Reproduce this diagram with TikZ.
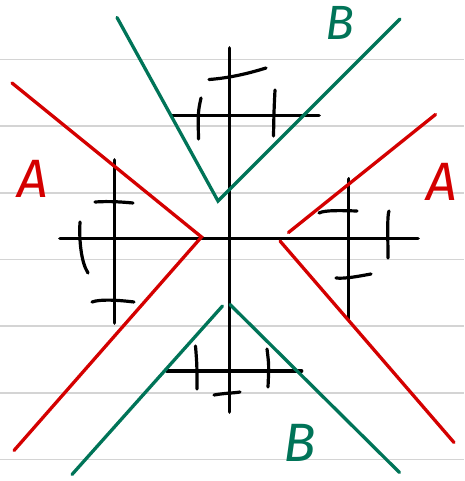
\documentclass[tikz,border=0pt]{standalone}
\usepackage{fontspec}
\setmainfont{Fira Sans}
\begin{document}
\begin{tikzpicture}[x=1pt,y=-1pt,
  rule/.style={draw={rgb,255:red,212;green,212;blue,212},line width=1.6},
  ax/.style={draw=black,line width=3.8,line cap=round},
  tk/.style={draw=black,line width=3.2,line cap=round},
  redl/.style={draw={rgb,255:red,212;green,0;blue,0},line width=3.3,line cap=round},
  grnl/.style={draw={rgb,255:red,0;green,116;blue,88},line width=3.3,line cap=round},
  lblA/.style={text={rgb,255:red,212;green,0;blue,0},font=\itshape\fontsize{54}{54}\selectfont,inner sep=0},
  lblB/.style={text={rgb,255:red,0;green,116;blue,88},font=\itshape\fontsize{48}{48}\selectfont,inner sep=0}]
\useasboundingbox[fill=white] (0,0) rectangle (464,481);
% ruled paper
\foreach \y in {59.5,126.2,192.8,259.5,326.2,392.8,459.5}
  \draw[rule] (0,\y) -- (464,\y);
% main axes
\coordinate (hl) at (60,238.5); \coordinate (hr) at (418,238.5);
\coordinate (vt) at (229.5,48); \coordinate (vb) at (229.5,412);
\draw[ax] (hl) -- (hr);
\draw[ax] (vt) -- (vb);
% top small axis
\coordinate (th1) at (172,115.5); \coordinate (th2) at (319,115.5);
\draw[ax] (th1) -- (th2);
\draw[tk] (201,98) .. controls (198,112) .. (198.5,139);
\draw[tk] (275,90) .. controls (274,110) .. (273.5,136);
\draw[tk] (209,79.5) .. controls (230,78) and (250,73) .. (266,68);
% left small axis
\coordinate (lt) at (114.5,160); \coordinate (lb) at (114.5,323);
\draw[ax] (lt) -- (lb);
\draw[tk] (95,202) .. controls (110,201) and (122,202) .. (133,203);
\draw[tk] (92,302) .. controls (100,299) and (118,300) .. (134,302);
\draw[tk] (80,222) .. controls (79,240) and (81,262) .. (88,273);
% right small axis
\coordinate (rt) at (348.5,179); \coordinate (rb) at (348.5,318);
\draw[ax] (rt) -- (rb);
\draw[tk] (319,213) .. controls (325,210) and (340,210.5) .. (357,211);
\draw[tk] (336,278) .. controls (345,279) and (360,276) .. (371,274);
\draw[tk] (389,211) .. controls (387,215) and (388,240) .. (388,258);
% bottom small axis
\coordinate (bl) at (167,371); \coordinate (br) at (301.5,371);
\draw[ax] (bl) -- (br);
\draw[tk] (195.5,346) .. controls (197,365) .. (197,389);
\draw[tk] (267,349) .. controls (269,365) .. (268,387);
\draw[tk] (214,395) .. controls (225,393) and (235,393) .. (240,392);
% red lines (A)
\coordinate (ra1) at (12,83); \coordinate (ra0) at (201.5,237); \coordinate (ra2) at (14,450.5);
\draw[redl] (ra1) -- (ra0) -- (ra2);
\coordinate (rb1) at (435.5,114.5); \coordinate (rb2) at (288.5,232.5);
\coordinate (rb3) at (280,241); \coordinate (rb4) at (454,442.5);
\draw[redl] (rb1) -- (rb2);
\draw[redl] (rb3) -- (rb4);
% green lines (B)
\coordinate (g1) at (117,17.5); \coordinate (g0) at (218,201); \coordinate (g2) at (400,19);
\draw[grnl] (g1) -- (g0) -- (g2);
\coordinate (g3) at (72,474.5); \coordinate (g4) at (222.5,306);
\coordinate (g5) at (230,304.5); \coordinate (g6) at (399.5,472.5);
\draw[grnl] (g3) -- (g4);
\draw[grnl] (g5) -- (g6);
% labels
\node[lblA] (aL) at (33,179) {A};
\node[lblA] (aR) at (442,182) {A};
\node[lblB] (bT) at (340,23) {B};
\node[lblB,font=\itshape\fontsize{54}{54}\selectfont] (bB) at (300,443) {B};
\end{tikzpicture}
\end{document}
